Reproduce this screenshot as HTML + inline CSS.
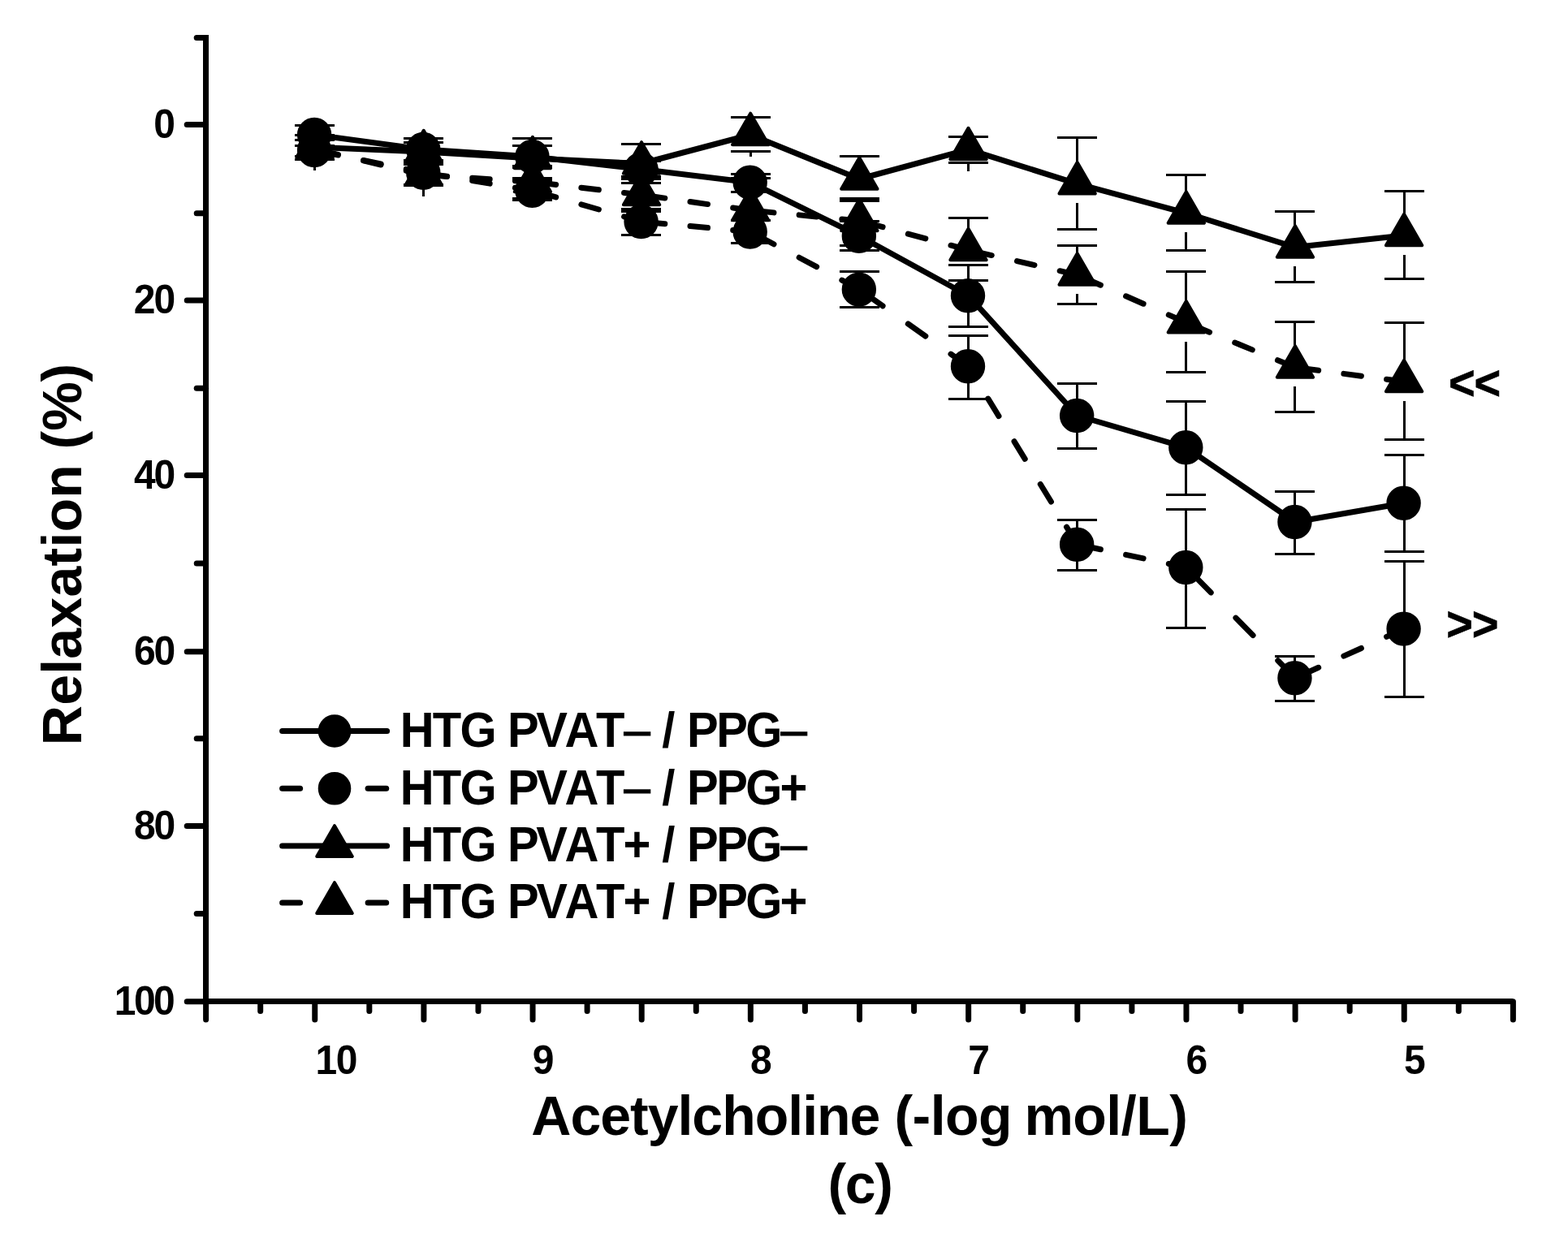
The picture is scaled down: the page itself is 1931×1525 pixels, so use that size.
<!DOCTYPE html>
<html lang="en"><head><meta charset="utf-8"><title>Relaxation vs Acetylcholine (c)</title>
<style>html,body{margin:0;padding:0;background:#fff}body{width:1931px;height:1525px;overflow:hidden}svg{display:block}text{font-family:"Liberation Sans",Arial,Helvetica,sans-serif;font-weight:bold;fill:#000;font-kerning:none}</style></head><body>
<svg width="1931" height="1525" viewBox="0 0 1931 1525">
<rect width="1931" height="1525" fill="#fff"/>
<g stroke="#000" stroke-width="7" fill="none" shape-rendering="crispEdges">
<line x1="253.6" y1="43" x2="253.6" y2="1233.8"/>
<line x1="253.6" y1="1233.8" x2="1863.4" y2="1233.8"/>
</g>
<g stroke="#000" stroke-width="7" fill="none" stroke-linecap="round">
<line x1="242.2" y1="46.5" x2="253.6" y2="46.5"/>
<line x1="230.2" y1="153.5" x2="253.6" y2="153.5"/>
<line x1="242.2" y1="262.8" x2="253.6" y2="262.8"/>
<line x1="230.2" y1="370" x2="253.6" y2="370"/>
<line x1="242.2" y1="478.3" x2="253.6" y2="478.3"/>
<line x1="230.2" y1="585.6" x2="253.6" y2="585.6"/>
<line x1="242.2" y1="694" x2="253.6" y2="694"/>
<line x1="230.2" y1="802.8" x2="253.6" y2="802.8"/>
<line x1="242.2" y1="909.8" x2="253.6" y2="909.8"/>
<line x1="230.2" y1="1017.6" x2="253.6" y2="1017.6"/>
<line x1="242.2" y1="1125.6" x2="253.6" y2="1125.6"/>
<line x1="230.2" y1="1233.8" x2="253.6" y2="1233.8"/>
<line x1="253.6" y1="1233.8" x2="253.6" y2="1256"/>
<line x1="320.68" y1="1233.8" x2="320.68" y2="1245.5"/>
<line x1="387.75" y1="1233.8" x2="387.75" y2="1256"/>
<line x1="454.83" y1="1233.8" x2="454.83" y2="1245.5"/>
<line x1="521.9" y1="1233.8" x2="521.9" y2="1256"/>
<line x1="588.98" y1="1233.8" x2="588.98" y2="1245.5"/>
<line x1="656.05" y1="1233.8" x2="656.05" y2="1256"/>
<line x1="723.12" y1="1233.8" x2="723.12" y2="1245.5"/>
<line x1="790.2" y1="1233.8" x2="790.2" y2="1256"/>
<line x1="857.28" y1="1233.8" x2="857.28" y2="1245.5"/>
<line x1="924.35" y1="1233.8" x2="924.35" y2="1256"/>
<line x1="991.43" y1="1233.8" x2="991.43" y2="1245.5"/>
<line x1="1058.5" y1="1233.8" x2="1058.5" y2="1256"/>
<line x1="1125.58" y1="1233.8" x2="1125.58" y2="1245.5"/>
<line x1="1192.65" y1="1233.8" x2="1192.65" y2="1256"/>
<line x1="1259.72" y1="1233.8" x2="1259.72" y2="1245.5"/>
<line x1="1326.8" y1="1233.8" x2="1326.8" y2="1256"/>
<line x1="1393.88" y1="1233.8" x2="1393.88" y2="1245.5"/>
<line x1="1460.95" y1="1233.8" x2="1460.95" y2="1256"/>
<line x1="1528.02" y1="1233.8" x2="1528.02" y2="1245.5"/>
<line x1="1595.1" y1="1233.8" x2="1595.1" y2="1256"/>
<line x1="1662.17" y1="1233.8" x2="1662.17" y2="1245.5"/>
<line x1="1729.25" y1="1233.8" x2="1729.25" y2="1256"/>
<line x1="1796.33" y1="1233.8" x2="1796.33" y2="1245.5"/>
<line x1="1863.4" y1="1233.8" x2="1863.4" y2="1256"/>
</g>
<text transform="translate(189.2 169.6) scale(1 1.04)" font-size="48">0</text>
<text transform="translate(164.7 386.1) scale(1 1.04)" font-size="48" letter-spacing="-1.9">20</text>
<text transform="translate(165 601.7) scale(1 1.04)" font-size="48" letter-spacing="-2.2">40</text>
<text transform="translate(165 818.9) scale(1 1.04)" font-size="48" letter-spacing="-2.2">60</text>
<text transform="translate(165 1033.7) scale(1 1.04)" font-size="48" letter-spacing="-2.2">80</text>
<text transform="translate(140.7 1249.9) scale(1 1.04)" font-size="48" letter-spacing="-2.5">100</text>
<text transform="translate(388.6 1323) scale(1 1.04)" font-size="48" letter-spacing="-1.6">10</text>
<text transform="translate(655.7 1323) scale(1 1.04)" font-size="48">9</text>
<text transform="translate(924 1323) scale(1 1.04)" font-size="48">8</text>
<text transform="translate(1192.3 1323) scale(1 1.04)" font-size="48">7</text>
<text transform="translate(1460.6 1323) scale(1 1.04)" font-size="48">6</text>
<text transform="translate(1728.9 1323) scale(1 1.04)" font-size="48">5</text>
<text transform="translate(0 1397.9) scale(1 1.02)" font-size="68"><tspan x="654.3" letter-spacing="-1">Acetylcholine</tspan> <tspan x="1101.4" letter-spacing="-0.5">(-log</tspan> <tspan x="1261.4" letter-spacing="-0.5">mol/L)</tspan></text>
<text transform="translate(1019.4 1481.6) scale(1 1)" font-size="68" letter-spacing="-1.3">(c)</text>
<text transform="translate(100.3 918.2) rotate(-90) scale(1 1.02)" font-size="68"><tspan x="0" letter-spacing="0.25">Relaxation</tspan> <tspan x="364.7">(%)</tspan></text>
<g fill="#000" stroke="none" shape-rendering="crispEdges">
<rect x="363" y="153" width="49" height="3"/>
<rect x="363" y="178" width="49" height="3"/>
<rect x="386" y="154" width="3" height="26"/>
<rect x="363" y="178" width="49" height="3"/>
<rect x="363" y="191" width="49" height="3"/>
<rect x="386" y="180" width="3" height="13"/>
<rect x="363" y="165" width="49" height="3"/>
<rect x="363" y="195" width="49" height="3"/>
<rect x="386" y="156" width="3" height="10"/>
<rect x="386" y="196" width="3" height="12"/>
<rect x="363" y="171" width="49" height="3"/>
<rect x="363" y="195" width="49" height="3"/>
<rect x="386" y="158" width="3" height="14"/>
<rect x="386" y="197" width="3" height="13"/>
<rect x="497" y="169" width="49" height="3"/>
<rect x="497" y="196" width="49" height="3"/>
<rect x="520" y="170" width="3" height="28"/>
<rect x="497" y="196" width="49" height="3"/>
<rect x="497" y="226" width="49" height="3"/>
<rect x="520" y="198" width="3" height="30"/>
<rect x="497" y="174" width="49" height="3"/>
<rect x="497" y="198" width="49" height="3"/>
<rect x="520" y="162" width="3" height="13"/>
<rect x="520" y="199" width="3" height="15"/>
<rect x="497" y="201" width="49" height="3"/>
<rect x="497" y="227" width="49" height="3"/>
<rect x="520" y="190" width="3" height="12"/>
<rect x="520" y="228" width="3" height="14"/>
<rect x="631" y="178" width="49" height="3"/>
<rect x="631" y="205" width="49" height="3"/>
<rect x="654" y="180" width="3" height="26"/>
<rect x="631" y="221" width="49" height="3"/>
<rect x="631" y="245" width="49" height="3"/>
<rect x="654" y="223" width="3" height="24"/>
<rect x="631" y="169" width="49" height="3"/>
<rect x="631" y="218" width="49" height="3"/>
<rect x="654" y="219" width="3" height="3"/>
<rect x="631" y="203" width="49" height="3"/>
<rect x="631" y="243" width="49" height="3"/>
<rect x="654" y="199" width="3" height="5"/>
<rect x="654" y="244" width="3" height="7"/>
<rect x="765" y="197" width="49" height="3"/>
<rect x="765" y="216" width="49" height="3"/>
<rect x="789" y="199" width="3" height="18"/>
<rect x="765" y="256" width="49" height="3"/>
<rect x="765" y="288" width="49" height="3"/>
<rect x="789" y="257" width="3" height="32"/>
<rect x="765" y="176" width="49" height="3"/>
<rect x="765" y="224" width="49" height="3"/>
<rect x="789" y="176" width="3" height="2"/>
<rect x="789" y="226" width="3" height="2"/>
<rect x="765" y="219" width="49" height="3"/>
<rect x="765" y="259" width="49" height="3"/>
<rect x="789" y="215" width="3" height="5"/>
<rect x="789" y="261" width="3" height="6"/>
<rect x="900" y="213" width="49" height="3"/>
<rect x="900" y="235" width="49" height="3"/>
<rect x="923" y="214" width="3" height="22"/>
<rect x="900" y="270" width="49" height="3"/>
<rect x="900" y="298" width="49" height="3"/>
<rect x="923" y="271" width="3" height="29"/>
<rect x="900" y="143" width="49" height="3"/>
<rect x="900" y="185" width="49" height="3"/>
<rect x="923" y="141" width="3" height="4"/>
<rect x="923" y="187" width="3" height="6"/>
<rect x="900" y="218" width="49" height="3"/>
<rect x="900" y="298" width="49" height="3"/>
<rect x="923" y="219" width="3" height="15"/>
<rect x="923" y="283" width="3" height="16"/>
<rect x="1034" y="271" width="49" height="3"/>
<rect x="1034" y="307" width="49" height="3"/>
<rect x="1057" y="272" width="3" height="36"/>
<rect x="1034" y="333" width="49" height="3"/>
<rect x="1034" y="377" width="49" height="3"/>
<rect x="1057" y="334" width="3" height="44"/>
<rect x="1034" y="191" width="49" height="3"/>
<rect x="1034" y="246" width="49" height="3"/>
<rect x="1057" y="192" width="3" height="3"/>
<rect x="1057" y="244" width="3" height="3"/>
<rect x="1034" y="243" width="49" height="3"/>
<rect x="1034" y="301" width="49" height="3"/>
<rect x="1057" y="244" width="3" height="3"/>
<rect x="1057" y="296" width="3" height="6"/>
<rect x="1168" y="325" width="49" height="3"/>
<rect x="1168" y="401" width="49" height="3"/>
<rect x="1191" y="327" width="3" height="75"/>
<rect x="1168" y="412" width="49" height="3"/>
<rect x="1168" y="490" width="49" height="3"/>
<rect x="1191" y="413" width="3" height="78"/>
<rect x="1168" y="167" width="49" height="3"/>
<rect x="1168" y="199" width="49" height="3"/>
<rect x="1191" y="159" width="3" height="9"/>
<rect x="1191" y="200" width="3" height="11"/>
<rect x="1168" y="267" width="49" height="3"/>
<rect x="1168" y="344" width="49" height="3"/>
<rect x="1191" y="268" width="3" height="15"/>
<rect x="1191" y="332" width="3" height="13"/>
<rect x="1302" y="471" width="49" height="3"/>
<rect x="1302" y="551" width="49" height="3"/>
<rect x="1325" y="472" width="3" height="80"/>
<rect x="1302" y="639" width="49" height="3"/>
<rect x="1302" y="701" width="49" height="3"/>
<rect x="1325" y="640" width="3" height="62"/>
<rect x="1302" y="168" width="49" height="3"/>
<rect x="1302" y="281" width="49" height="3"/>
<rect x="1325" y="170" width="3" height="31"/>
<rect x="1325" y="250" width="3" height="32"/>
<rect x="1302" y="301" width="49" height="3"/>
<rect x="1302" y="373" width="49" height="3"/>
<rect x="1325" y="302" width="3" height="11"/>
<rect x="1325" y="362" width="3" height="12"/>
<rect x="1436" y="493" width="49" height="3"/>
<rect x="1436" y="608" width="49" height="3"/>
<rect x="1459" y="495" width="3" height="114"/>
<rect x="1436" y="626" width="49" height="3"/>
<rect x="1436" y="772" width="49" height="3"/>
<rect x="1459" y="628" width="3" height="146"/>
<rect x="1436" y="214" width="49" height="3"/>
<rect x="1436" y="307" width="49" height="3"/>
<rect x="1459" y="216" width="3" height="21"/>
<rect x="1459" y="286" width="3" height="22"/>
<rect x="1436" y="333" width="49" height="3"/>
<rect x="1436" y="457" width="49" height="3"/>
<rect x="1459" y="335" width="3" height="37"/>
<rect x="1459" y="421" width="3" height="37"/>
<rect x="1570" y="604" width="49" height="3"/>
<rect x="1570" y="681" width="49" height="3"/>
<rect x="1593" y="606" width="3" height="77"/>
<rect x="1570" y="807" width="49" height="3"/>
<rect x="1570" y="862" width="49" height="3"/>
<rect x="1593" y="808" width="3" height="55"/>
<rect x="1570" y="259" width="49" height="3"/>
<rect x="1570" y="346" width="49" height="3"/>
<rect x="1593" y="261" width="3" height="18"/>
<rect x="1593" y="328" width="3" height="20"/>
<rect x="1570" y="395" width="49" height="3"/>
<rect x="1570" y="506" width="49" height="3"/>
<rect x="1593" y="397" width="3" height="30"/>
<rect x="1593" y="476" width="3" height="32"/>
<rect x="1705" y="559" width="49" height="3"/>
<rect x="1705" y="678" width="49" height="3"/>
<rect x="1728" y="560" width="3" height="120"/>
<rect x="1705" y="690" width="49" height="3"/>
<rect x="1705" y="857" width="49" height="3"/>
<rect x="1728" y="691" width="3" height="167"/>
<rect x="1705" y="234" width="49" height="3"/>
<rect x="1705" y="342" width="49" height="3"/>
<rect x="1728" y="236" width="3" height="29"/>
<rect x="1728" y="314" width="3" height="30"/>
<rect x="1705" y="396" width="49" height="3"/>
<rect x="1705" y="540" width="49" height="3"/>
<rect x="1728" y="397" width="3" height="48"/>
<rect x="1728" y="494" width="3" height="48"/>
</g>
<g stroke="#000" stroke-width="7" fill="none" stroke-linejoin="round" stroke-linecap="round">
<polyline points="387.6,166 521.75,184 655.9,193 790.05,208.6 924.2,224.7 1058.35,290.7 1192.5,364.2 1326.65,512 1460.8,551.3 1594.95,643 1729.1,619.7"/>
<polyline points="387.6,181.3 521.75,187.1 655.9,195.1 790.05,201.5 924.2,166 1058.35,220.5 1192.5,184.1 1326.65,226.4 1460.8,262.5 1594.95,304.6 1729.1,290"/>
<line x1="521.75" y1="212.8" x2="387.6" y2="185.1" stroke-dasharray="21.95 31.86"/>
<line x1="655.9" y1="234.8" x2="521.75" y2="212.8" stroke-dasharray="21.79 31.62"/>
<line x1="790.05" y1="273" x2="655.9" y2="234.8" stroke-dasharray="22.35 32.44"/>
<line x1="924.2" y1="285.5" x2="790.05" y2="273" stroke-dasharray="21.59 31.34"/>
<line x1="1058.35" y1="356.6" x2="924.2" y2="285.5" stroke-dasharray="24.33 35.31"/>
<line x1="1192.5" y1="451.3" x2="1058.35" y2="356.6" stroke-dasharray="26.32 38.19"/>
<line x1="1326.65" y1="670.7" x2="1192.5" y2="451.3" stroke-dasharray="25.2 36.57"/>
<line x1="1460.8" y1="699" x2="1326.65" y2="670.7" stroke-dasharray="21.97 31.89"/>
<line x1="1594.95" y1="835.3" x2="1460.8" y2="699" stroke-dasharray="30.17 43.78"/>
<line x1="1729.1" y1="774.6" x2="1594.95" y2="835.3" stroke-dasharray="23.6 34.25"/>
<line x1="521.75" y1="215.5" x2="387.6" y2="183.7" stroke-dasharray="22.1 32.06"/>
<line x1="655.9" y1="224" x2="521.75" y2="215.5" stroke-dasharray="21.54 31.26"/>
<line x1="790.05" y1="240" x2="655.9" y2="224" stroke-dasharray="21.65 31.42"/>
<line x1="924.2" y1="259.1" x2="790.05" y2="240" stroke-dasharray="21.72 31.51"/>
<line x1="1058.35" y1="272" x2="924.2" y2="259.1" stroke-dasharray="21.6 31.34"/>
<line x1="1192.5" y1="308" x2="1058.35" y2="272" stroke-dasharray="22.26 32.3"/>
<line x1="1326.65" y1="338.6" x2="1192.5" y2="308" stroke-dasharray="22.05 32"/>
<line x1="1460.8" y1="397.3" x2="1326.65" y2="338.6" stroke-dasharray="23.47 34.06"/>
<line x1="1594.95" y1="452.6" x2="1460.8" y2="397.3" stroke-dasharray="23.26 33.75"/>
<line x1="1729.1" y1="470" x2="1594.95" y2="452.6" stroke-dasharray="21.68 31.46"/>
</g>
<g fill="#000" stroke="#000" stroke-linejoin="round">
<circle cx="387.1" cy="166" r="19.7" stroke-width="3"/>
<circle cx="387.1" cy="185.1" r="19.7" stroke-width="3"/>
<polygon points="387.6,155.01 409.79,193.45 365.41,193.45" stroke-width="4"/>
<polygon points="387.6,157.41 409.79,195.85 365.41,195.85" stroke-width="4"/>
<circle cx="521.25" cy="184" r="19.7" stroke-width="3"/>
<circle cx="521.25" cy="212.8" r="19.7" stroke-width="3"/>
<polygon points="521.75,160.81 543.94,199.25 499.56,199.25" stroke-width="4"/>
<polygon points="521.75,189.21 543.94,227.65 499.56,227.65" stroke-width="4"/>
<circle cx="655.4" cy="193" r="19.7" stroke-width="3"/>
<circle cx="655.4" cy="234.8" r="19.7" stroke-width="3"/>
<polygon points="655.9,168.81 678.09,207.25 633.71,207.25" stroke-width="4"/>
<polygon points="655.9,197.71 678.09,236.15 633.71,236.15" stroke-width="4"/>
<circle cx="789.55" cy="208.6" r="19.7" stroke-width="3"/>
<circle cx="789.55" cy="273" r="19.7" stroke-width="3"/>
<polygon points="790.05,175.21 812.24,213.65 767.86,213.65" stroke-width="4"/>
<polygon points="790.05,213.71 812.24,252.15 767.86,252.15" stroke-width="4"/>
<circle cx="923.7" cy="224.7" r="19.7" stroke-width="3"/>
<circle cx="923.7" cy="285.5" r="19.7" stroke-width="3"/>
<polygon points="924.2,139.71 946.39,178.15 902.01,178.15" stroke-width="4"/>
<polygon points="924.2,232.81 946.39,271.25 902.01,271.25" stroke-width="4"/>
<circle cx="1057.85" cy="290.7" r="19.7" stroke-width="3"/>
<circle cx="1057.85" cy="356.6" r="19.7" stroke-width="3"/>
<polygon points="1058.35,194.21 1080.54,232.65 1036.16,232.65" stroke-width="4"/>
<polygon points="1058.35,245.71 1080.54,284.15 1036.16,284.15" stroke-width="4"/>
<circle cx="1192" cy="364.2" r="19.7" stroke-width="3"/>
<circle cx="1192" cy="451.3" r="19.7" stroke-width="3"/>
<polygon points="1192.5,157.81 1214.69,196.25 1170.31,196.25" stroke-width="4"/>
<polygon points="1192.5,281.71 1214.69,320.15 1170.31,320.15" stroke-width="4"/>
<circle cx="1326.15" cy="512" r="19.7" stroke-width="3"/>
<circle cx="1326.15" cy="670.7" r="19.7" stroke-width="3"/>
<polygon points="1326.65,200.11 1348.84,238.55 1304.46,238.55" stroke-width="4"/>
<polygon points="1326.65,312.31 1348.84,350.75 1304.46,350.75" stroke-width="4"/>
<circle cx="1460.3" cy="551.3" r="19.7" stroke-width="3"/>
<circle cx="1460.3" cy="699" r="19.7" stroke-width="3"/>
<polygon points="1460.8,236.21 1482.99,274.65 1438.61,274.65" stroke-width="4"/>
<polygon points="1460.8,371.01 1482.99,409.45 1438.61,409.45" stroke-width="4"/>
<circle cx="1594.45" cy="643" r="19.7" stroke-width="3"/>
<circle cx="1594.45" cy="835.3" r="19.7" stroke-width="3"/>
<polygon points="1594.95,278.31 1617.14,316.75 1572.76,316.75" stroke-width="4"/>
<polygon points="1594.95,426.31 1617.14,464.75 1572.76,464.75" stroke-width="4"/>
<circle cx="1728.6" cy="619.7" r="19.7" stroke-width="3"/>
<circle cx="1728.6" cy="774.6" r="19.7" stroke-width="3"/>
<polygon points="1729.1,263.71 1751.29,302.15 1706.91,302.15" stroke-width="4"/>
<polygon points="1729.1,443.71 1751.29,482.15 1706.91,482.15" stroke-width="4"/>
</g>
<text transform="translate(1784 492.1) scale(1 1.05)" font-size="56" letter-spacing="-1.1" stroke="#000" stroke-width="0.6">&lt;&lt;</text>
<text transform="translate(1781.2 789.2) scale(1 1.05)" font-size="56" letter-spacing="-1.1" stroke="#000" stroke-width="0.6">&gt;&gt;</text>
<g stroke="#000" stroke-width="7" fill="none" stroke-linecap="round">
<line x1="347.6" y1="900.5" x2="476.6" y2="900.5"/>
<line x1="347.6" y1="971.3" x2="369.6" y2="971.3"/>
<line x1="453.1" y1="971.3" x2="475.7" y2="971.3"/>
<line x1="347.6" y1="1042" x2="476.6" y2="1042"/>
<line x1="347.6" y1="1112" x2="369.6" y2="1112"/>
<line x1="453.1" y1="1112" x2="475.7" y2="1112"/>
</g>
<g fill="#000" stroke="#000" stroke-linejoin="round">
<circle cx="412" cy="900.5" r="18.8" stroke-width="3"/>
<circle cx="412" cy="971.3" r="18.8" stroke-width="3"/>
<polygon points="412,1017.17 433.79,1054.91 390.21,1054.91" stroke-width="4"/>
<polygon points="412,1087.17 433.79,1124.91 390.21,1124.91" stroke-width="4"/>
</g>
<text transform="translate(0 919.8) scale(1 1.04)" font-size="58"><tspan x="492.75" letter-spacing="-1.8">HTG</tspan> <tspan x="625.1" letter-spacing="-3.45">PVAT</tspan><tspan x="768.45" font-weight="normal" stroke="#000" stroke-width="1.2">–</tspan> <tspan x="815.2">/</tspan> <tspan x="846" letter-spacing="-2.5">PPG</tspan><tspan x="961.5" font-weight="normal" stroke="#000" stroke-width="1.2">–</tspan></text>
<text transform="translate(0 990.6) scale(1 1.04)" font-size="58"><tspan x="492.75" letter-spacing="-1.8">HTG</tspan> <tspan x="625.1" letter-spacing="-3.45">PVAT</tspan><tspan x="768.45" font-weight="normal" stroke="#000" stroke-width="1.2">–</tspan> <tspan x="815.2">/</tspan> <tspan x="846" letter-spacing="-2.5">PPG</tspan><tspan x="960.6">+</tspan></text>
<text transform="translate(0 1061.3) scale(1 1.04)" font-size="58"><tspan x="492.75" letter-spacing="-1.8">HTG</tspan> <tspan x="625.1" letter-spacing="-3.45">PVAT</tspan><tspan x="767.55">+</tspan> <tspan x="815.2">/</tspan> <tspan x="846" letter-spacing="-2.5">PPG</tspan><tspan x="961.5" font-weight="normal" stroke="#000" stroke-width="1.2">–</tspan></text>
<text transform="translate(0 1131.3) scale(1 1.04)" font-size="58"><tspan x="492.75" letter-spacing="-1.8">HTG</tspan> <tspan x="625.1" letter-spacing="-3.45">PVAT</tspan><tspan x="767.55">+</tspan> <tspan x="815.2">/</tspan> <tspan x="846" letter-spacing="-2.5">PPG</tspan><tspan x="960.6">+</tspan></text>
</svg></body></html>
